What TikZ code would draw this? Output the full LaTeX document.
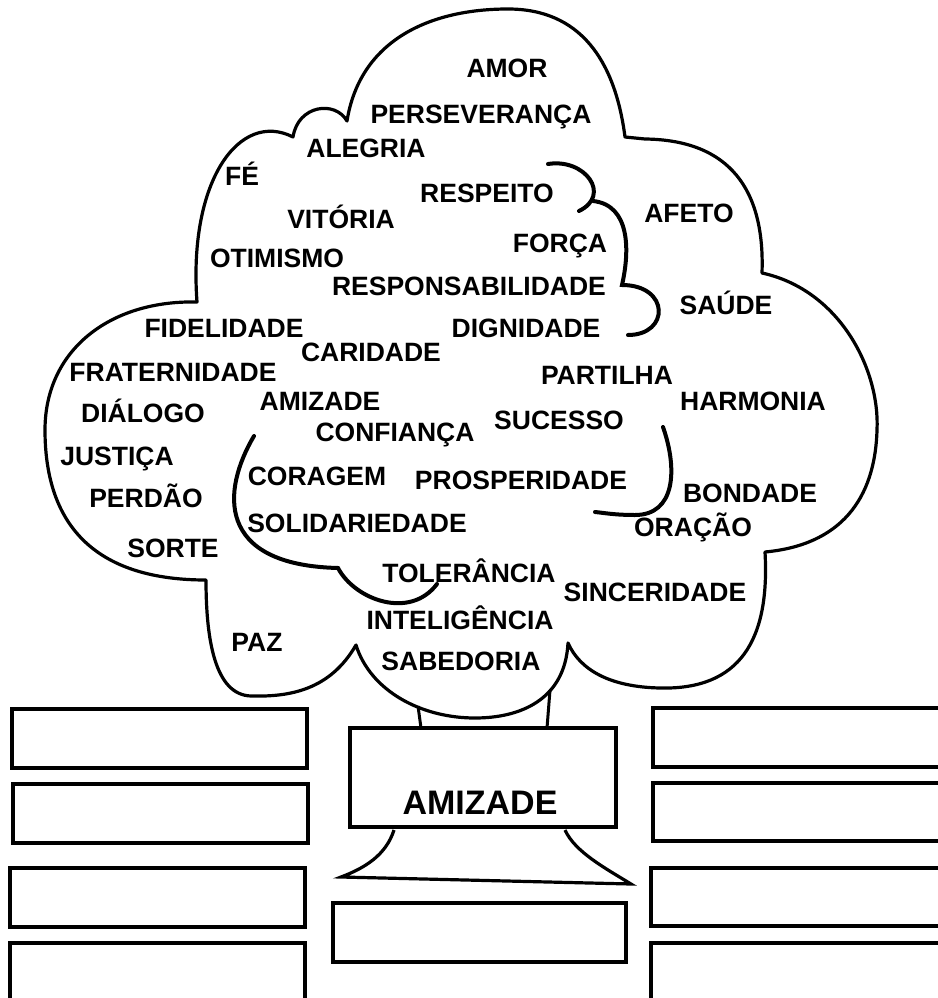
\documentclass[tikz,border=0pt]{standalone}
\usepackage{fontspec}
\setmainfont{Liberation Sans}
\begin{document}
\begin{tikzpicture}[x=1pt,y=-1pt,
  word/.style={anchor=base,yshift=-9.6pt,inner sep=0pt,font=\fontsize{26.5}{29}\selectfont\bfseries},
  title/.style={anchor=base,yshift=-12.4pt,inner sep=0pt,font=\fontsize{34}{38}\selectfont\bfseries},
  outline/.style={line width=3.2pt,line join=round,line cap=round},
  inner/.style={line width=4pt,line cap=round},
  blank/.style={draw,line width=4.5pt,minimum width=0pt}]
\useasboundingbox (0,0) rectangle (937,998);
% cloud
\draw[outline] (347,121) .. controls (360,40) and (430,9) .. (508,9)
  .. controls (580,9) and (615,60) .. (625,137) -- (645,139)
  .. controls (730,140) and (765,190) .. (762,273)
  .. controls (840,290) and (880,370) .. (877,430)
  .. controls (875,500) and (840,545) .. (765,552)
  .. controls (770,640) and (740,690) .. (660,688)
  .. controls (610,687) and (580,670) .. (568,643)
  .. controls (565,700) and (520,718) .. (475,718)
  .. controls (420,718) and (370,690) .. (356,645)
  .. controls (330,690) and (290,697) .. (251,696)
  .. controls (215,695) and (206,640) .. (206,580)
  .. controls (100,580) and (45,530) .. (45,430)
  .. controls (45,350) and (110,300) .. (197,302)
  .. controls (188,180) and (240,110) .. (293,137)
  .. controls (298,105) and (335,100) .. (347,121) -- cycle;
% inner curves
\draw[inner] (548,164) .. controls (585,158) and (612,195) .. (579,211);
\draw[inner] (593,201) .. controls (630,205) and (630,250) .. (622,285)
  .. controls (670,285) and (670,335) .. (628,335);
\draw[inner] (254,436) .. controls (222,490) and (215,565) .. (338,568)
  .. controls (355,600) and (410,620) .. (437,584);
\draw[inner] (663,427) .. controls (678,470) and (675,515) .. (635,515)
  .. controls (615,515) and (605,513) .. (595,512);
% trunk
\coordinate (t1) at (418,706); \coordinate (t2) at (550,690);
\node[blank,line width=4pt,minimum width=266pt,minimum height=99pt] (box) at (483,777.5) {};
\draw[line width=3pt] (t1) -- (421,728);
\draw[line width=3pt] (t2) -- (547,728);
\node[title] (amz) at (480,802) {AMIZADE};
% base
\draw[line width=3.2pt,line join=miter] (394,830) .. controls (386,855) and (365,868) .. (341,877)
  -- (631,884) .. controls (605,868) and (575,852) .. (565,830);
% boxes
\draw[line width=4.5pt] (333,903) rectangle (626,962);
\draw[line width=4.5pt] (12,709) rectangle (307,768);
\draw[line width=4.5pt] (13,784) rectangle (308,843);
\draw[line width=4.5pt] (10,868) rectangle (305,927);
\draw[line width=4.5pt] (10,943) rectangle (305,1010);
\draw[line width=4.5pt] (653,708) rectangle (950,767);
\draw[line width=4.5pt] (653,783) rectangle (950,841);
\draw[line width=4.5pt] (651,868) rectangle (950,926);
\draw[line width=4.5pt] (651,943) rectangle (950,1010);
% words
\node[word] (w1) at (507,68) {AMOR};
\node[word] (w2) at (481,114) {PERSEVERANÇA};
\node[word] (w3) at (366,148) {ALEGRIA};
\node[word] (w4) at (242,176) {FÉ};
\node[word] (w5) at (487,193) {RESPEITO};
\node[word] (w6) at (689,213) {AFETO};
\node[word] (w7) at (341,219) {VITÓRIA};
\node[word] (w8) at (560,243) {FORÇA};
\node[word] (w9) at (277,258) {OTIMISMO};
\node[word] (w10) at (469,286) {RESPONSABILIDADE};
\node[word] (w11) at (726,305) {SAÚDE};
\node[word] (w12) at (224,328) {FIDELIDADE};
\node[word] (w13) at (526,328) {DIGNIDADE};
\node[word] (w14) at (371,352) {CARIDADE};
\node[word] (w15) at (173,372) {FRATERNIDADE};
\node[word] (w16) at (607,375) {PARTILHA};
\node[word] (w17) at (143,413) {DIÁLOGO};
\node[word] (w18) at (320,401) {AMIZADE};
\node[word] (w19) at (753,401) {HARMONIA};
\node[word] (w20) at (559,420) {SUCESSO};
\node[word] (w21) at (395,432) {CONFIANÇA};
\node[word] (w22) at (117,456) {JUSTIÇA};
\node[word] (w23) at (317,476) {CORAGEM};
\node[word] (w24) at (521,480) {PROSPERIDADE};
\node[word] (w25) at (750,493) {BONDADE};
\node[word] (w26) at (146,498) {PERDÃO};
\node[word] (w27) at (357,523) {SOLIDARIEDADE};
\node[word] (w28) at (693,527) {ORAÇÃO};
\node[word] (w29) at (173,548) {SORTE};
\node[word] (w30) at (469,573) {TOLERÂNCIA};
\node[word] (w31) at (655,592) {SINCERIDADE};
\node[word] (w32) at (460,620) {INTELIGÊNCIA};
\node[word] (w33) at (257,642) {PAZ};
\node[word] (w34) at (461,661) {SABEDORIA};
\end{tikzpicture}
\end{document}
